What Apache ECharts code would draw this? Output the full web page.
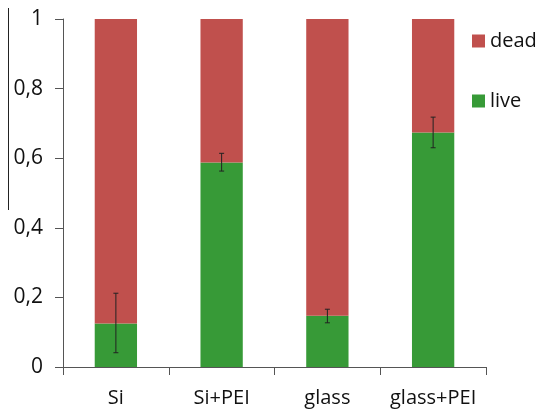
<!DOCTYPE html>
<html><head><meta charset="utf-8">
<script src="https://cdn.jsdelivr.net/npm/echarts@6/dist/echarts.min.js"></script>
<style>html,body{margin:0;padding:0;background:#fff}#c{width:542px;height:411px}</style>
</head><body><div id="c"></div>
<script>
var categories = ['Si', 'Si+PEI', 'glass', 'glass+PEI'];
var live = [0.125, 0.588, 0.147, 0.674];
var dead = [0.875, 0.412, 0.853, 0.326];
var errLow = [0.041, 0.563, 0.127, 0.630];
var errHigh = [0.212, 0.614, 0.166, 0.718];
var yTicks = [0, 0.2, 0.4, 0.6, 0.8, 1];

var font = '"Open Sans", sans-serif';
var errData = categories.map(function (c, i) { return [i, errLow[i], errHigh[i]]; });

var chart = echarts.init(document.getElementById('c'), null, {renderer: 'canvas'});
chart.setOption({
  animation: false,
  backgroundColor: '#fff',
  textStyle: {fontFamily: font},
  grid: {left: 63, right: 56, top: 19, bottom: 44},
  legend: {
    orient: 'vertical', left: 467, top: 26,
    data: ['dead', 'live'],
    itemWidth: 13, itemHeight: 13, itemGap: 40,
    icon: 'rect',
    textStyle: {fontFamily: font, fontSize: 20, color: '#111'}
  },
  xAxis: {
    type: 'category', data: categories, boundaryGap: true,
    axisLine: {lineStyle: {color: '#555', width: 1}},
    axisTick: {show: true, length: 8, lineStyle: {color: '#555'}},
    axisLabel: {fontFamily: font, fontSize: 20, color: '#111', margin: 21, interval: 0}
  },
  yAxis: {
    type: 'value', min: 0, max: 1, interval: 0.2,
    splitLine: {show: false},
    axisLine: {show: true, lineStyle: {color: '#555', width: 1}},
    axisTick: {show: true, length: 8, lineStyle: {color: '#555'}},
    axisLabel: {
      fontFamily: font, fontSize: 21, color: '#111', margin: 20,
      formatter: function (v) {
        var t = yTicks.filter(function (x) { return Math.abs(x - v) < 1e-9; })[0];
        return String(t !== undefined ? t : v).replace('.', ',');
      }
    }
  },
  series: [
    {name: 'live', type: 'bar', stack: 's', data: live, barWidth: '40%', itemStyle: {color: '#379A37'}},
    {name: 'dead', type: 'bar', stack: 's', data: dead, barWidth: '40%', itemStyle: {color: '#C0504D'}},
    {
      name: 'err', type: 'custom', data: errData, z: 10,
      renderItem: function (params, api) {
        var x = api.value(0);
        var lo = api.coord([x, api.value(1)]);
        var hi = api.coord([x, api.value(2)]);
        var h = 2.5;
        var st = {stroke: '#222', lineWidth: 1};
        return {type: 'group', children: [
          {type: 'line', shape: {x1: lo[0], y1: lo[1], x2: hi[0], y2: hi[1]}, style: st},
          {type: 'line', shape: {x1: lo[0] - h, y1: lo[1], x2: lo[0] + h, y2: lo[1]}, style: st},
          {type: 'line', shape: {x1: hi[0] - h, y1: hi[1], x2: hi[0] + h, y2: hi[1]}, style: st}
        ]};
      }
    }
  ],
  graphic: [
    {type: 'line', shape: {x1: 8.5, y1: 8, x2: 8.5, y2: 210}, style: {stroke: '#222', lineWidth: 1}}
  ]
});
</script>
</body></html>
